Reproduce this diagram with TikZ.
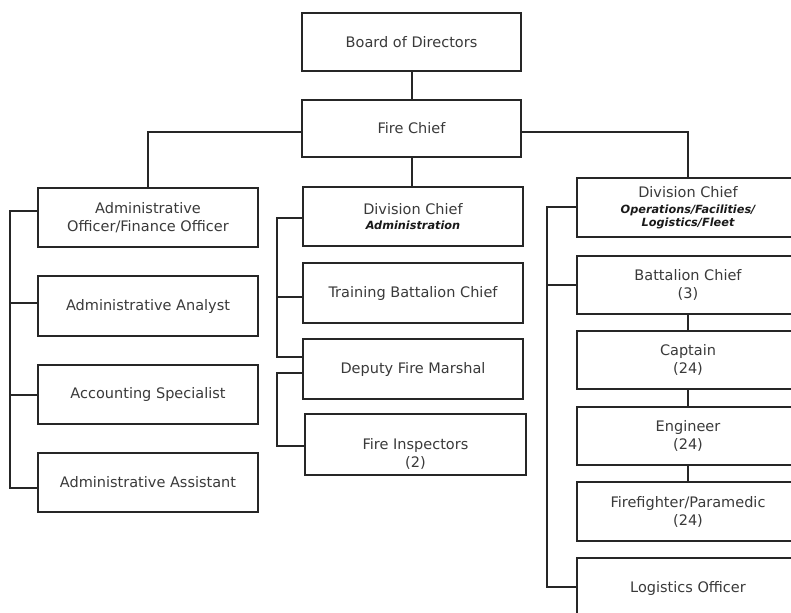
\documentclass[tikz,border=0pt]{standalone}
\usepackage{fontspec}
\setmainfont{DejaVu Sans}
\newcommand\mainf{\fontsize{14.5}{18}\selectfont}
\newcommand\subf{\fontsize{11.3}{14}\selectfont\bfseries\itshape\color{subc}}
\definecolor{linec}{HTML}{262626}
\definecolor{textc}{HTML}{3A3A3A}
\definecolor{subc}{HTML}{1A1A1A}
\tikzset{
  box/.style={draw=linec, line width=2pt, fill=white, inner sep=0pt,
    minimum width=220pt, minimum height=59pt, align=center, font=\mainf, text=textc},
  rbox/.style={box, minimum width=222pt, minimum height=58pt},
  plain/.style={inner sep=0pt, align=center, font=\mainf, text=textc},
  conn/.style={draw=linec, line width=2pt}
}
\begin{document}
\begin{tikzpicture}[x=1pt,y=-1pt]
\clip (0,0) rectangle (791,612);
\fill[white] (0,0) rectangle (791,612);

% top
\node[box, minimum width=219pt, minimum height=58pt] (BoD) at (411.5,42) {Board of Directors};
\node[box, minimum width=219pt, minimum height=57pt] (FC) at (411.5,128.5) {Fire Chief};

% left column
\node[box] (AO) at (148,217.5) {Administrative\\Officer/Finance Officer};
\node[box, minimum height=60pt] (AA) at (148,306) {Administrative Analyst};
\node[box] (AS) at (148,394.5) {Accounting Specialist};
\node[box] (AAsst) at (148,482.5) {Administrative Assistant};

% middle column
\node[box] (DCA) at (413,216.5) {Division Chief\\[-3pt]{\subf Administration}};
\node[box, minimum height=60pt] (TBC) at (413,293) {Training Battalion Chief};
\node[box, minimum height=60pt] (DFM) at (413,369) {Deputy Fire Marshal};
\node[box, minimum width=221pt, minimum height=61pt] (FI) at (415.5,444.5) {};
\node[plain] (FIt) at (415.5,454) {Fire Inspectors\\(2)};

% right column
\node[rbox, minimum height=59pt] (DCO) at (688,207.5) {Division Chief\\[-2pt]{\subf Operations/Facilities/}\\[-5pt]{\subf Logistics/Fleet}};
\node[rbox] (BC) at (688,285) {Battalion Chief\\(3)};
\node[rbox] (Cap) at (688,360) {Captain\\(24)};
\node[rbox] (Eng) at (688,436) {Engineer\\(24)};
\node[rbox, minimum height=59pt] (FF) at (688,511.5) {Firefighter/Paramedic\\(24)};
\node[rbox, minimum height=60pt] (LO) at (688,588) {Logistics Officer};

% connectors
\coordinate (L) at (10,0);
\coordinate (M) at (277,0);
\coordinate (R) at (547,0);

\draw[conn] (BoD.south) -- (BoD.south |- FC.north);
\draw[conn] ([yshift=-3.5pt]FC.west) -| (AO.north);
\draw[conn] ([yshift=-3.5pt]FC.east) -| (DCO.north);
\draw[conn] (FC.south) -- (FC.south |- DCA.north);

\draw[conn] ([yshift=6.5pt]AO.west) -| ([yshift=-5.5pt]AAsst.west -| L) -- ([yshift=-5.5pt]AAsst.west);
\draw[conn] ([yshift=3pt]AA.west) -- ([yshift=3pt]AA.west -| L);
\draw[conn] (AS.west) -- (AS.west -| L);

\draw[conn] ([yshift=-1.5pt]DCA.west) -| ([yshift=12pt]DFM.west -| M) -- ([yshift=12pt]DFM.west);
\draw[conn] ([yshift=-4pt]TBC.west) -- ([yshift=-4pt]TBC.west -| M);
\draw[conn] ([yshift=-4pt]DFM.west) -| ([yshift=-1.5pt]FI.west -| M) -- ([yshift=-1.5pt]FI.west);

\draw[conn] (DCO.west) -| ([yshift=1pt]LO.west -| R) -- ([yshift=1pt]LO.west);
\draw[conn] (BC.west) -- (BC.west -| R);
\draw[conn] (BC.south) -- (Cap.north);
\draw[conn] (Cap.south) -- (Eng.north);
\draw[conn] (Eng.south) -- (FF.north);
\end{tikzpicture}
\end{document}
